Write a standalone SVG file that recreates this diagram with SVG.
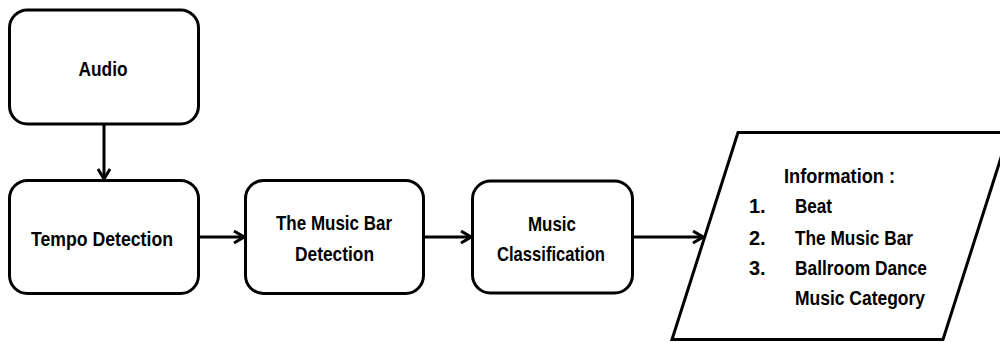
<svg xmlns="http://www.w3.org/2000/svg" width="1000" height="342" viewBox="0 0 1000 342">
<defs>
<style>
.box{fill:#fff;stroke:#000;stroke-width:3}
.t{font-family:"Liberation Sans",Arial,sans-serif;font-weight:bold;font-size:21px;fill:#000}
.c{text-anchor:middle}
.l{font-size:20px}
.conn{stroke:#000;stroke-width:3;fill:none}
</style>
<marker id="arr" viewBox="0 0 12 14" refX="11" refY="7" markerWidth="12" markerHeight="14" markerUnits="userSpaceOnUse" orient="auto">
<path d="M1,1 L11,7 L1,13" fill="none" stroke="#000" stroke-width="3" stroke-linejoin="miter"/>
</marker>
</defs>
<rect width="1000" height="342" fill="#fff"/>
<g id="connectors">
<line class="conn" x1="104" y1="124" x2="104" y2="179" marker-end="url(#arr)"/>
<line class="conn" x1="199" y1="237" x2="244" y2="237" marker-end="url(#arr)"/>
<line class="conn" x1="424" y1="237" x2="471" y2="237" marker-end="url(#arr)"/>
<line class="conn" x1="633" y1="237" x2="703" y2="237" marker-end="url(#arr)"/>
</g>
<g id="audio">
<rect class="box" x="9.5" y="10" width="189" height="114" rx="18"/>
<text class="t c" x="103" y="76" textLength="49" lengthAdjust="spacingAndGlyphs">Audio</text>
</g>
<g id="tempo">
<rect class="box" x="9.5" y="180.5" width="189" height="113" rx="18"/>
<text class="t c" x="102" y="246" textLength="142" lengthAdjust="spacingAndGlyphs">Tempo Detection</text>
</g>
<g id="musicbar">
<rect class="box" x="245.5" y="180.5" width="178" height="113" rx="18"/>
<text class="t c" x="334" y="230" textLength="116" lengthAdjust="spacingAndGlyphs">The Music Bar</text>
<text class="t c" x="334.5" y="261" textLength="79" lengthAdjust="spacingAndGlyphs">Detection</text>
</g>
<g id="classification">
<rect class="box" x="472.5" y="181" width="160" height="112" rx="18"/>
<text class="t c" x="552" y="231" textLength="48" lengthAdjust="spacingAndGlyphs">Music</text>
<text class="t c" x="551" y="261" textLength="108" lengthAdjust="spacingAndGlyphs">Classification</text>
</g>
<g id="information">
<polygon class="box" points="738,132.5 1009,132.5 943,339.5 672,339.5"/>
<text class="t l" x="784" y="183" textLength="111" lengthAdjust="spacingAndGlyphs">Information :</text>
<text class="t l" x="749" y="213">1.</text>
<text class="t l" x="795" y="213" textLength="37" lengthAdjust="spacingAndGlyphs">Beat</text>
<text class="t l" x="749" y="245">2.</text>
<text class="t l" x="795" y="245" textLength="118" lengthAdjust="spacingAndGlyphs">The Music Bar</text>
<text class="t l" x="749" y="275">3.</text>
<text class="t l" x="795" y="275" textLength="132" lengthAdjust="spacingAndGlyphs">Ballroom Dance</text>
<text class="t l" x="795" y="305" textLength="130" lengthAdjust="spacingAndGlyphs">Music Category</text>
</g>
</svg>
